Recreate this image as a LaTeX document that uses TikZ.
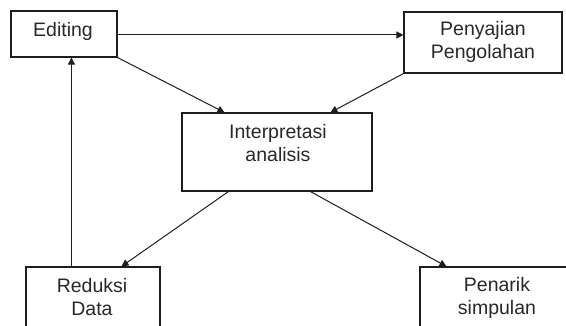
\documentclass[tikz,border=0pt]{standalone}
\usepackage{fontspec}
\setmainfont{Liberation Sans}
\usetikzlibrary{arrows.meta,calc}
\definecolor{ink}{RGB}{30,30,30}
\definecolor{txtc}{RGB}{40,40,40}
\tikzset{
  box/.style={draw=ink, line width=1.1pt, rectangle, inner sep=0pt, fill=white},
  txt/.style={text=txtc, align=center, font=\fontsize{19.5}{23}\selectfont, inner sep=0pt},
  arr/.style={draw=ink, line width=1pt, -{Triangle[length=7pt,width=7pt]}}
}
\begin{document}
\begin{tikzpicture}[x=1pt,y=-1pt]
\useasboundingbox (0,0) rectangle (566,326);
\clip (0,0) rectangle (566,326);
\fill[white] (0,0) rectangle (566,326);
% boxes
\node[box, minimum width=106pt, minimum height=46pt] (edit) at (64,34) {};
\node[box, minimum width=158pt, minimum height=61pt] (peny) at (483,42.5) {};
\node[box, minimum width=190pt, minimum height=78pt] (interp) at (277,152) {};
\node[box, minimum width=134pt, minimum height=78pt] (red) at (93,306) {};
\node[box, minimum width=155pt, minimum height=78pt] (pen) at (497.5,306) {};
% texts
\node[txt] (tedit) at (63,31) {Editing};
\node[txt] (tpeny) at (483,41.5) {Penyajian\\Pengolahan};
\node[txt] (tinterp) at (278,143.5) {Interpretasi\\analisis};
\node[txt] (tred) at (92,297.5) {Reduksi\\Data};
\node[txt] (tpen) at (497,297.5) {Penarik\\simpulan};
% connectors
\coordinate (ea) at ($(edit.south west)+(61,0)$);
\coordinate (ra) at ($(red.north west)+(46,0)$);
\draw[arr] (ra) -- (ea);
\draw[arr] ($(edit.east)+(0,1)$) -- ($(peny.west)+(0,-7.5)$);
\draw[arr] (edit.south east) -- ($(interp.north west)+(43,0)$);
\draw[arr] (peny.south west) -- ($(interp.north west)+(149,0)$);
\draw[arr] ($(interp.south west)+(47,0)$) -- ($(red.north west)+(96,0)$);
\draw[arr] ($(interp.south west)+(129,0)$) -- ($(pen.north west)+(27,0)$);
\end{tikzpicture}
\end{document}
